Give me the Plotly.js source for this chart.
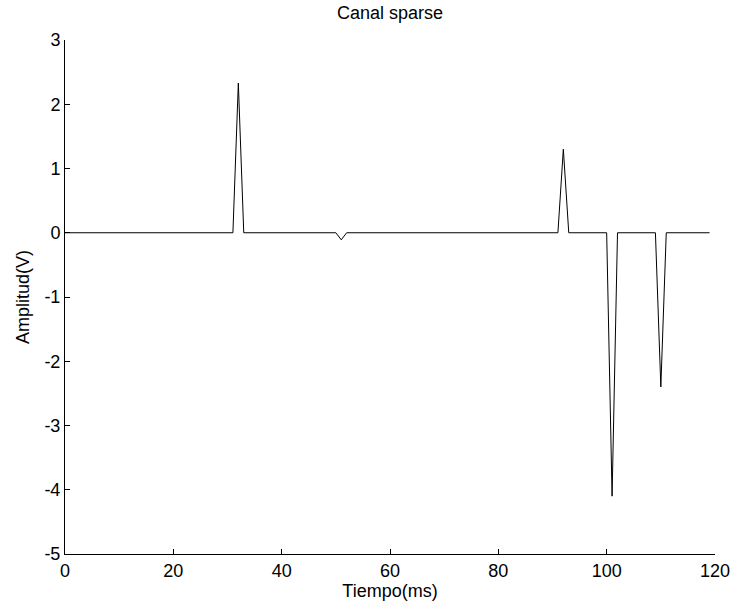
<!DOCTYPE html>
<html>
<head>
<meta charset="utf-8">
<script src="https://cdn.plot.ly/plotly-3.0.1.min.js"></script>
<style>html,body{margin:0;padding:0;background:#fff;}#chart{width:734px;height:610px;}</style>
</head>
<body>
<div id="chart"></div>
<script>
// Time points (ms) where the signal changes, and the amplitude (V) at each
var tiempo = [0, 31, 32, 33, 50, 51, 52, 91, 92, 93, 100, 101, 102, 109, 110, 111, 119];
var amplitud = [0, 0, 2.33, 0, 0, -0.11, 0, 0, 1.30, 0, 0, -4.10, 0, 0, -2.40, 0, 0];
var xTicks = [0, 20, 40, 60, 80, 100, 120];
var yTicks = [-5, -4, -3, -2, -1, 0, 1, 2, 3];

var font = {family: 'Arial, "Liberation Sans", sans-serif', size: 18, color: '#000'};

Plotly.newPlot('chart', [{
  x: tiempo, y: amplitud, type: 'scatter', mode: 'lines',
  line: {color: '#000', width: 1}, hoverinfo: 'x+y'
}], {
  width: 734, height: 610,
  margin: {l: 65, r: 19, t: 40, b: 56, pad: 0},
  paper_bgcolor: '#fff', plot_bgcolor: '#fff',
  font: font,
  showlegend: false,
  title: {text: 'Canal sparse', font: font, x: 0.5, xref: 'paper', y: 0.979, yref: 'container', yanchor: 'middle'},
  xaxis: {
    range: [0, 120], tickvals: xTicks, ticktext: xTicks.map(String),
    showline: true, linecolor: '#000', linewidth: 1, mirror: false,
    ticks: 'inside', ticklen: 5, tickcolor: '#000',
    showgrid: false, zeroline: false, tickfont: font,
    title: {text: 'Tiempo(ms)', font: font, standoff: 0}
  },
  yaxis: {
    range: [-5, 3], tickvals: yTicks, ticktext: yTicks.map(String),
    showline: true, linecolor: '#000', linewidth: 1, mirror: false,
    ticks: 'inside', ticklen: 5, tickcolor: '#000',
    showgrid: false, zeroline: false, tickfont: font,
    title: {text: 'Amplitud(V)', font: font, standoff: 10}
  }
}, {displayModeBar: false, staticPlot: true});
</script>
</body>
</html>
